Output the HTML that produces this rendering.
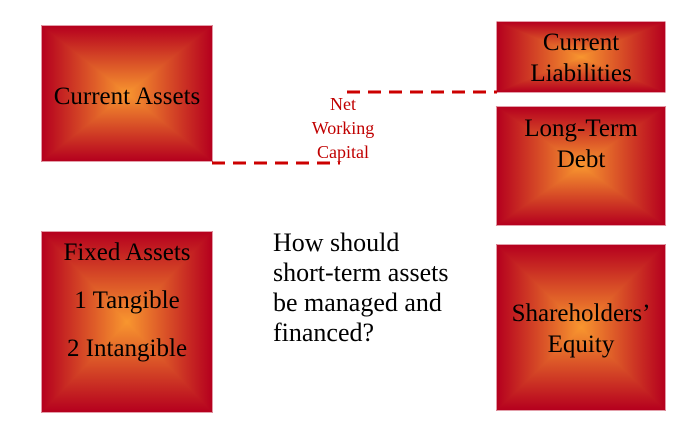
<!DOCTYPE html>
<html><head><meta charset="utf-8"><style>
html,body{margin:0;padding:0;background:#fff;}
svg{display:block;}
svg text{font-family:"Liberation Serif","Times New Roman",Times,serif;}
</style></head><body>
<svg width="680" height="422" viewBox="0 0 680 422" xmlns="http://www.w3.org/2000/svg" font-family="Liberation Serif, serif">
<defs>
<linearGradient id="gT" x1="0" y1="0" x2="0" y2="1"><stop offset="0" stop-color="#b5001e"/><stop offset="1" stop-color="#f8962f"/></linearGradient>
<linearGradient id="gB" x1="0" y1="1" x2="0" y2="0"><stop offset="0" stop-color="#b5001e"/><stop offset="1" stop-color="#f8962f"/></linearGradient>
<linearGradient id="gL" x1="0" y1="0" x2="1" y2="0"><stop offset="0" stop-color="#b5001e"/><stop offset="1" stop-color="#f8962f"/></linearGradient>
<linearGradient id="gR" x1="1" y1="0" x2="0" y2="0"><stop offset="0" stop-color="#b5001e"/><stop offset="1" stop-color="#f8962f"/></linearGradient>
</defs>
<g stroke-width="0.8">
<polygon points="42,26 212,26 127,93.5" fill="url(#gT)" stroke="url(#gT)"/>
<polygon points="42,161 212,161 127,93.5" fill="url(#gB)" stroke="url(#gB)"/>
<polygon points="42,26 42,161 127,93.5" fill="url(#gL)" stroke="url(#gL)"/>
<polygon points="212,26 212,161 127,93.5" fill="url(#gR)" stroke="url(#gR)"/>
<polygon points="42,232 212,232 127,322" fill="url(#gT)" stroke="url(#gT)"/>
<polygon points="42,412 212,412 127,322" fill="url(#gB)" stroke="url(#gB)"/>
<polygon points="42,232 42,412 127,322" fill="url(#gL)" stroke="url(#gL)"/>
<polygon points="212,232 212,412 127,322" fill="url(#gR)" stroke="url(#gR)"/>
<polygon points="497,22 665,22 581,57" fill="url(#gT)" stroke="url(#gT)"/>
<polygon points="497,92 665,92 581,57" fill="url(#gB)" stroke="url(#gB)"/>
<polygon points="497,22 497,92 581,57" fill="url(#gL)" stroke="url(#gL)"/>
<polygon points="665,22 665,92 581,57" fill="url(#gR)" stroke="url(#gR)"/>
<polygon points="497,107 665,107 581,166" fill="url(#gT)" stroke="url(#gT)"/>
<polygon points="497,225 665,225 581,166" fill="url(#gB)" stroke="url(#gB)"/>
<polygon points="497,107 497,225 581,166" fill="url(#gL)" stroke="url(#gL)"/>
<polygon points="665,107 665,225 581,166" fill="url(#gR)" stroke="url(#gR)"/>
<polygon points="497,245 665,245 581,327.5" fill="url(#gT)" stroke="url(#gT)"/>
<polygon points="497,410 665,410 581,327.5" fill="url(#gB)" stroke="url(#gB)"/>
<polygon points="497,245 497,410 581,327.5" fill="url(#gL)" stroke="url(#gL)"/>
<polygon points="665,245 665,410 581,327.5" fill="url(#gR)" stroke="url(#gR)"/>
</g>
<g stroke="#cc0000" stroke-width="3" stroke-dasharray="13,8" fill="none">
<line x1="212" y1="163" x2="340" y2="163"/>
<line x1="347" y1="92" x2="497" y2="92"/>
</g>
<g font-size="25" fill="#000" text-anchor="middle">
<text x="127" y="104">Current Assets</text>
<text x="127" y="260">Fixed Assets</text>
<text x="127" y="308">1 Tangible</text>
<text x="127" y="356">2 Intangible</text>
<text x="581" y="50">Current</text>
<text x="581" y="81">Liabilities</text>
<text x="581" y="136">Long-Term</text>
<text x="581" y="167">Debt</text>
<text x="581" y="321">Shareholders’</text>
<text x="581" y="352">Equity</text>
</g>
<g font-size="26" fill="#000">
<text x="273" y="251">How should</text>
<text x="273" y="281">short-term assets</text>
<text x="273" y="311">be managed and</text>
<text x="273" y="341">financed?</text>
</g>
<g font-size="18" fill="#c00000" text-anchor="middle">
<text x="343" y="110">Net</text>
<text x="343" y="134">Working</text>
<text x="343" y="158">Capital</text>
</g>
</svg>
</body></html>
